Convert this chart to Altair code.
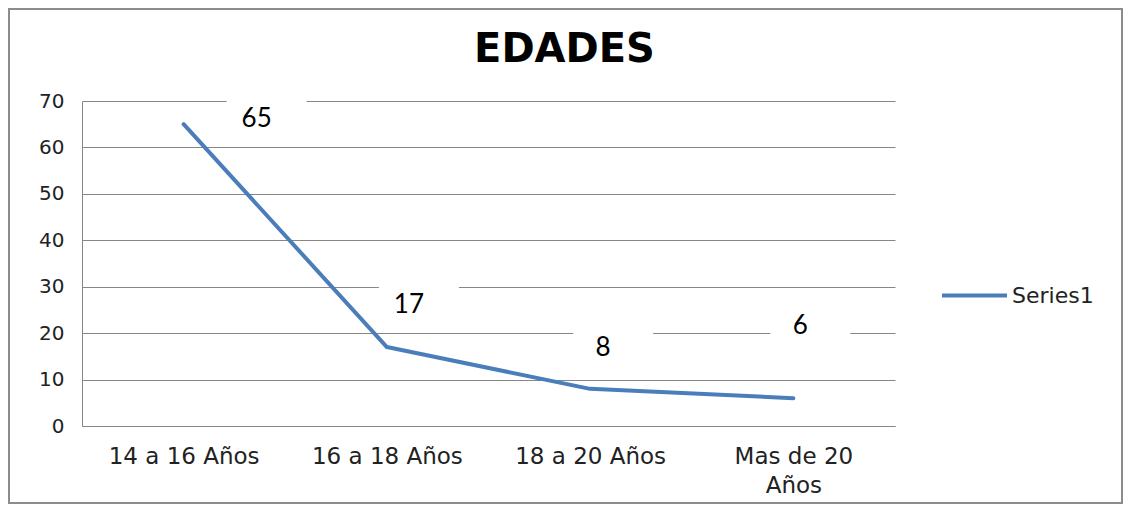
import altair as alt
import pandas as pd

# ---- data ----
categories = ["14 a 16 Años", "16 a 18 Años", "18 a 20 Años", "Mas de 20 Años"]
values = [65, 17, 8, 6]
series_name = "Series1"
y_ticks = [0, 10, 20, 30, 40, 50, 60, 70]

df = pd.DataFrame({"cat": categories, "val": values, "series": [series_name] * len(values)})

# ---- styling constants ----
W, H = 813, 325
PAD = {"left": 74, "top": 93, "right": 228, "bottom": 78}
LINE_COLOR = "#4a7ebb"
GRID = "#868686"
# label placement (pixel offsets from each point, as placed in the original)
label_style = {
    "14 a 16 Años": (73, -5),
    "16 a 18 Años": (22, -42),
    "18 a 20 Años": (13, -41),
    "Mas de 20 Años": (7, -72),
}

x_enc = alt.X(
    "cat:N",
    sort=categories,
    scale=alt.Scale(type="point", padding=0.5),
    axis=alt.Axis(
        title=None, labelAngle=0, ticks=False, grid=False,
        domainColor=GRID, domainWidth=1,
        labelFont="DejaVu Sans", labelFontSize=23, labelColor="#222",
        labelPadding=19, labelLineHeight=29, labelAlign="center",
        labelExpr="datum.label == 'Mas de 20 Años' ? ['Mas de 20', 'Años'] : datum.label",
    ),
)
y_enc = alt.Y(
    "val:Q",
    scale=alt.Scale(domain=[0, 70], nice=False),
    axis=alt.Axis(
        title=None, values=y_ticks, ticks=False, grid=True,
        gridColor=GRID, gridWidth=1, domainColor=GRID, domainWidth=1,
        labelFont="DejaVu Sans", labelFontSize=20, labelColor="#222",
        labelPadding=18,
    ),
)

base = alt.Chart(df)

line = base.mark_line(strokeWidth=4, strokeCap="round", strokeJoin="round").encode(
    x=x_enc,
    y=y_enc,
    color=alt.Color(
        "series:N",
        scale=alt.Scale(range=[LINE_COLOR]),
        legend=alt.Legend(
            title=None, orient="none", legendX=858, legendY=160,
            symbolType="stroke", symbolSize=4225, symbolStrokeWidth=4,
            labelFont="DejaVu Sans", labelFontSize=22, labelColor="#222",
            labelOffset=3, padding=0,
        ),
    ),
)

boxes = []
texts = []
box_path = "M-1,-0.425H1V0.425H-1Z"
for cat, (dx, dy) in label_style.items():
    sub = base.transform_filter(alt.datum.cat == cat)
    boxes.append(sub.mark_point(
        shape=box_path, size=6400, filled=True, color="white", opacity=1,
        strokeWidth=0, xOffset=dx + 10, yOffset=dy - 2,
    ).encode(x=x_enc, y=y_enc))
    texts.append(sub.mark_text(
        dx=dx, dy=dy, font="Lato", fontSize=26, color="black",
        align="center", baseline="middle",
    ).encode(x=x_enc, y=y_enc, text="val:Q"))

# outer frame of the chart drawn as a rect around the whole canvas
border = alt.Chart(pd.DataFrame({"a": [0]})).mark_rect(
    fill=None, stroke="#8c8c8c", strokeWidth=2
).encode(
    x=alt.value(-PAD["left"] + 1),
    x2=alt.value(W + PAD["right"] - 1),
    y=alt.value(-PAD["top"] + 1),
    y2=alt.value(H + PAD["bottom"] - 1),
)

chart = alt.layer(border, line, *boxes, *texts).properties(
    width=W,
    height=H,
    padding=PAD,
    autosize=alt.AutoSizeParams(type="none"),
    background="white",
    title=alt.TitleParams(
        "EDADES", font="DejaVu Sans", fontSize=40, fontWeight="bold",
        color="black", anchor="middle", dx=76, offset=-62, frame="group",
    ),
).configure_view(stroke=None)

chart.save("out.html", embed_options={"renderer": "svg", "actions": False})
